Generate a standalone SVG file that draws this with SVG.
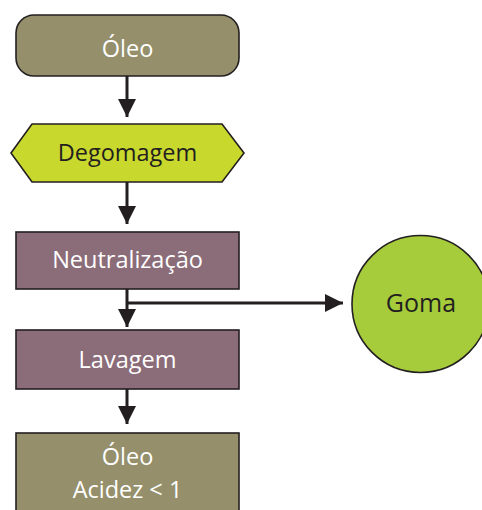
<svg xmlns="http://www.w3.org/2000/svg" width="482" height="510" viewBox="0 0 482 510">
  <style>
    .node { stroke: #231f20; stroke-width: 1.6; }
    .olive { fill: #958f6b; }
    .lime { fill: #c9d82c; }
    .mauve { fill: #8b6c79; }
    .green { fill: #a6cc3b; }
    .label { font-family: "Open Sans", "Liberation Sans", sans-serif; font-size: 23.5px; text-anchor: middle; }
    .big { font-size: 25px; }
    .light { fill: #ffffff; }
    .dark { fill: #231f20; }
    .wire { stroke: #231f20; stroke-width: 3; fill: none; }
  </style>
  <defs>
    <marker id="arrow" markerUnits="userSpaceOnUse" markerWidth="20" markerHeight="18" refX="18" refY="9" orient="auto">
      <path d="M0,0 L18,9 L0,18 Z" fill="#231f20"/>
    </marker>
  </defs>

  <rect width="482" height="510" fill="#ffffff"/>

  <g id="connectors">
    <line class="wire" x1="127" y1="76" x2="127" y2="117" marker-end="url(#arrow)"/>
    <line class="wire" x1="127" y1="182" x2="127" y2="224" marker-end="url(#arrow)"/>
    <line class="wire" x1="127" y1="289" x2="127" y2="327" marker-end="url(#arrow)"/>
    <line class="wire" x1="126" y1="303" x2="343" y2="303" marker-end="url(#arrow)"/>
    <line class="wire" x1="127" y1="389" x2="127" y2="424" marker-end="url(#arrow)"/>
  </g>

  <g id="oleo-in">
    <rect class="node olive" x="16" y="15" width="223" height="61" rx="18" ry="18"/>
    <text class="label light" x="127.5" y="57">Óleo</text>
  </g>

  <g id="degomagem">
    <polygon class="node lime" points="11,153 32,124 222,124 244,153 222,182 32,182"/>
    <text class="label dark" x="127.5" y="161">Degomagem</text>
  </g>

  <g id="neutralizacao">
    <rect class="node mauve" x="16" y="232" width="223" height="57"/>
    <text class="label light" x="127.5" y="268">Neutralização</text>
  </g>

  <g id="lavagem">
    <rect class="node mauve" x="16" y="330" width="223" height="59"/>
    <text class="label light" x="127.5" y="368">Lavagem</text>
  </g>

  <g id="oleo-out">
    <rect class="node olive" x="16" y="433" width="223" height="90"/>
    <text class="label light" x="127.5" y="465">Óleo</text>
    <text class="label light" x="127.5" y="498">Acidez &lt; 1</text>
  </g>

  <g id="goma">
    <circle class="node green" cx="420.5" cy="304" r="68.5"/>
    <text class="label big dark" x="421" y="312">Goma</text>
  </g>
</svg>
